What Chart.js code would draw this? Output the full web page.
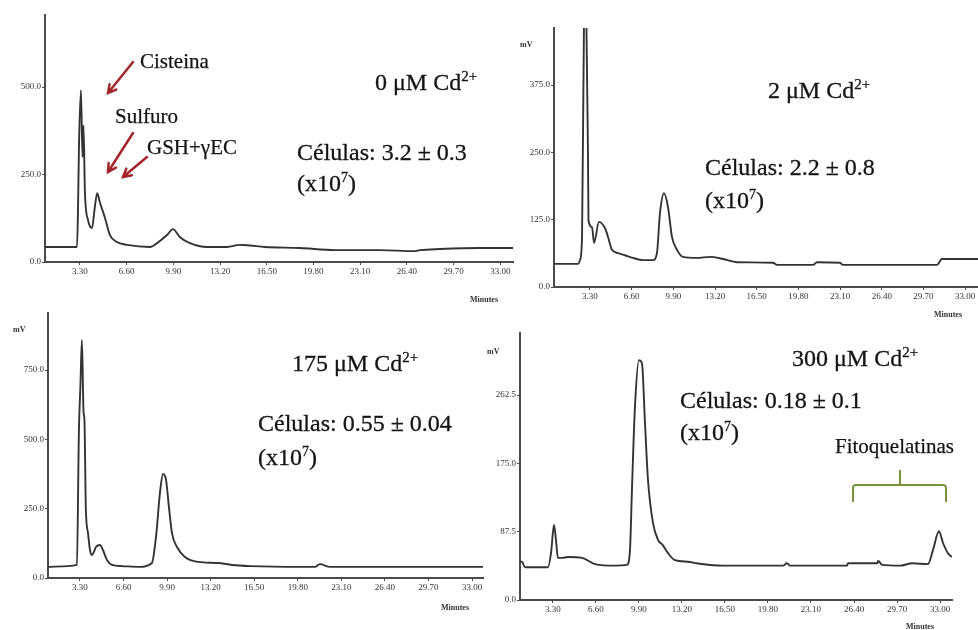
<!DOCTYPE html>
<html>
<head>
<meta charset="utf-8">
<script src="https://cdn.jsdelivr.net/npm/chart.js@4.4.1/dist/chart.umd.min.js"></script>
<style>
    body {
        margin: 0;
        width: 978px;
        height: 630px;
        position: relative;
        overflow: hidden;
        background: #fff;
        font-family: 'Liberation Serif', 'Times New Roman', serif;
        color: #141414;
    }
    canvas { position: absolute; }
    .lbl { position: absolute; white-space: nowrap; line-height: 1; }
    .big { font-size: 24px; -webkit-text-stroke: 0.3px #141414; }
    .mid { font-size: 21px; -webkit-text-stroke: 0.25px #141414; }
    .tiny { font-size: 8px; font-weight: bold; color: #333; }
    .big sup { font-size: 15px; vertical-align: 9px; line-height: 0; }
    .exp { font-size: 14px; vertical-align: 9px; line-height: 0; }
</style>
</head>
<body>
<canvas id="chart-1" width="520" height="315" style="left:0;top:0"></canvas>
<canvas id="chart-2" width="478" height="320" style="left:500px;top:0"></canvas>
<canvas id="chart-3" width="490" height="330" style="left:0;top:300px"></canvas>
<canvas id="chart-4" width="488" height="320" style="left:490px;top:310px"></canvas>

<!-- panel 1 -->
<div class="lbl mid" style="left:140px;top:51px">Cisteina</div>
<div class="lbl mid" style="left:115px;top:106px">Sulfuro</div>
<div class="lbl mid" style="left:147px;top:137px">GSH+γEC</div>
<div class="lbl big" style="left:375px;top:70px">0 μM Cd<sup>2+</sup></div>
<div class="lbl big" style="left:297px;top:140px">Células: 3.2 ± 0.3</div>
<div class="lbl big" style="left:297px;top:171px">(x10<span class="exp">7</span>)</div>
<div class="lbl tiny" style="left:470px;top:296px">Minutes</div>

<!-- panel 2 -->
<div class="lbl tiny" style="left:520px;top:41px">mV</div>
<div class="lbl big" style="left:768px;top:78px">2 μM Cd<sup>2+</sup></div>
<div class="lbl big" style="left:705px;top:155px">Células: 2.2 ± 0.8</div>
<div class="lbl big" style="left:705px;top:188px">(x10<span class="exp">7</span>)</div>
<div class="lbl tiny" style="left:934px;top:311px">Minutes</div>

<!-- panel 3 -->
<div class="lbl tiny" style="left:13px;top:326px">mV</div>
<div class="lbl big" style="left:292px;top:351px">175 μM Cd<sup>2+</sup></div>
<div class="lbl big" style="left:258px;top:411px">Células: 0.55 ± 0.04</div>
<div class="lbl big" style="left:258px;top:445px">(x10<span class="exp">7</span>)</div>
<div class="lbl tiny" style="left:441px;top:604px">Minutes</div>

<!-- panel 4 -->
<div class="lbl tiny" style="left:487px;top:348px">mV</div>
<div class="lbl big" style="left:792px;top:346px">300 μM Cd<sup>2+</sup></div>
<div class="lbl big" style="left:680px;top:388px">Células: 0.18 ± 0.1</div>
<div class="lbl big" style="left:680px;top:420px">(x10<span class="exp">7</span>)</div>
<div class="lbl mid" style="left:835px;top:436px">Fitoquelatinas</div>
<div class="lbl tiny" style="left:906px;top:623px">Minutes</div>

<script>
// tick values shared by all panels (minutes)
const xTicks = [3.3, 6.6, 9.9, 13.2, 16.5, 19.8, 23.1, 26.4, 29.7, 33.0];

// 0 uM Cd
const p1Time = [0.83, 0.97, 3.09, 3.16, 3.23, 3.37, 3.48, 3.55, 3.65, 3.87, 4.15, 4.36, 4.52, 4.71, 5.07, 5.42,
    5.91, 6.62, 8.25, 8.75, 9.45, 9.87, 10.37, 11.08, 12.28, 13.69, 14.61, 15.32, 16.37, 18.85, 21.32, 24.5,
    26.9, 27.33, 28.74, 31.57, 33.9];
const p1Signal = [43, 43, 43, 143, 330, 491, 300, 390, 200, 120, 97, 160, 197, 170, 126, 77,
    57, 49, 43, 54, 77, 94, 71, 54, 43, 43, 49, 47, 43, 40, 34, 34,
    31, 34, 37, 40, 40];
const p1YTicks = [0, 250, 500];

// 2 uM Cd
const p2Time = [0.45, 2.35, 2.51, 2.67, 2.82, 2.9, 3.02, 3.14, 3.18, 3.46, 3.62, 4.01, 4.49, 4.73, 5.04, 5.52,
    6.07, 6.7, 7.5, 8.29, 8.6, 8.84, 9.16, 9.48, 9.79, 10.19, 10.66, 11.77, 12.8, 13.83, 14.94, 17.79,
    18.11, 20.96, 21.27, 23.09, 23.33, 30.77, 31.17, 34.02];
const p2Signal = [43, 43, 50, 93, 481, 520, 481, 249, 124, 111, 82, 121, 109, 93, 69, 63,
    59, 54, 50, 50, 63, 137, 174, 148, 93, 69, 56, 54, 56, 52, 46, 45,
    41, 41, 46, 45, 41, 41, 52, 52];
const p2YTicks = [0, 125, 250, 375];

// 175 uM Cd
const p3Time = [0.88, 2.39, 3.07, 3.22, 3.34, 3.45, 3.57, 3.64, 3.75, 3.91, 4.06, 4.21, 4.36, 4.51, 4.82, 5.04,
    5.35, 5.72, 6.48, 7.85, 8.75, 9.06, 9.36, 9.59, 9.82, 10.04, 10.27, 10.65, 11.25, 12.24, 13.75, 14.82,
    16.18, 19.97, 21.1, 21.48, 22.24, 27.54, 33.83];
const p3Signal = [40, 43, 47, 527, 700, 859, 600, 570, 245, 162, 101, 83, 94, 112, 119, 101,
    65, 47, 43, 40, 54, 148, 307, 375, 354, 256, 162, 112, 76, 58, 54, 47,
    43, 40, 40, 50, 40, 40, 40];
const p3YTicks = [0, 250, 500, 750];

// 300 uM Cd
const p4Time = [0.77, 0.92, 1.15, 2.92, 3.15, 3.38, 3.53, 3.68, 3.99, 4.45, 5.53, 6.52, 8.06, 8.98, 9.21, 9.36,
    9.59, 9.9, 10.13, 10.36, 10.59, 10.97, 11.36, 11.74, 12.13, 12.66, 13.66, 14.35, 16.35, 20.95, 21.26, 21.49,
    25.86, 25.94, 28.17, 28.25, 28.56, 29.94, 30.86, 32.08, 32.46, 32.92, 33.23, 33.61, 33.92];
const p4Signal = [49, 49, 42, 42, 60, 96, 77, 54, 54, 55, 54, 46, 44, 45, 64, 141,
    247, 307, 303, 227, 154, 99, 77, 70, 60, 51, 49, 47, 44, 44, 47, 44,
    44, 47, 47, 50, 45, 44, 47, 46, 64, 88, 73, 60, 55];
const p4YTicks = [0, 87.5, 175, 262.5];

// plot boxes inside each canvas
const panels = [
    { id: 'chart-1', time: p1Time, signal: p1Signal, yTicks: p1YTicks, xMin: 0.83, xMax: 33.9, yMax: 706,
      left: 45, top: 15, right: 7, bottom: 53 },
    { id: 'chart-2', time: p2Time, signal: p2Signal, yTicks: p2YTicks, xMin: 0.45, xMax: 34.02, yMax: 481,
      left: 54, top: 28, right: 0, bottom: 33 },
    { id: 'chart-3', time: p3Time, signal: p3Signal, yTicks: p3YTicks, xMin: 0.88, xMax: 33.83, yMax: 956,
      left: 48, top: 13, right: 7, bottom: 52 },
    { id: 'chart-4', time: p4Time, signal: p4Signal, yTicks: p4YTicks, xMin: 0.77, xMax: 33.92, yMax: 342,
      left: 30, top: 23, right: 26, bottom: 30 },
];

// arrows for panel 1 and bracket for panel 4
const arrowsPlugin = {
    id: 'arrows',
    afterDraw(chart) {
        const ctx = chart.ctx;
        ctx.save();
        if (chart.canvas.id === 'chart-1') {
            ctx.strokeStyle = '#a3262a';
            ctx.lineWidth = 2.5;
            ctx.lineCap = 'round';
            drawArrow(ctx, 133, 62, 108, 93);
            drawArrow(ctx, 133, 133, 108, 172);
            drawArrow(ctx, 147, 157, 123, 177);
        }
        if (chart.canvas.id === 'chart-4') {
            // canvas sits at 490,310
            ctx.strokeStyle = '#76923c';
            ctx.lineWidth = 2;
            ctx.beginPath();
            ctx.moveTo(853 - 490, 502 - 310);
            ctx.lineTo(853 - 490, 488 - 310);
            ctx.quadraticCurveTo(853 - 490, 485 - 310, 856 - 490, 485 - 310);
            ctx.lineTo(943 - 490, 485 - 310);
            ctx.quadraticCurveTo(946 - 490, 485 - 310, 946 - 490, 488 - 310);
            ctx.lineTo(946 - 490, 502 - 310);
            ctx.moveTo(900 - 490, 485 - 310);
            ctx.lineTo(900 - 490, 470 - 310);
            ctx.stroke();
        }
        ctx.restore();
    },
};

function drawArrow(ctx, x1, y1, x2, y2) {
    let a = Math.atan2(y2 - y1, x2 - x1);
    let h = 9;
    ctx.beginPath();
    ctx.moveTo(x1, y1);
    ctx.lineTo(x2, y2);
    ctx.moveTo(x2 - h * Math.cos(a - 0.5), y2 - h * Math.sin(a - 0.5));
    ctx.lineTo(x2, y2);
    ctx.lineTo(x2 - h * Math.cos(a + 0.5), y2 - h * Math.sin(a + 0.5));
    ctx.stroke();
}

function makeChart(p) {
    let canvas = document.getElementById(p.id);
    let xHeight = p.bottom;
    let tickFont = { family: "'Liberation Serif', serif", size: 9 };
    new Chart(canvas.getContext('2d'), {
        type: 'line',
        data: {
            datasets: [{
                data: p.time.map((t, i) => ({ x: t, y: p.signal[i] })),
                borderColor: '#333',
                borderWidth: 1.9,
                pointRadius: 0,
                cubicInterpolationMode: 'monotone',
                fill: false,
            }],
        },
        options: {
            responsive: false,
            animation: false,
            events: [],
            layout: { autoPadding: false, padding: { left: 0, top: p.top, right: p.right, bottom: 0 } },
            plugins: { legend: { display: false }, tooltip: { enabled: false } },
            scales: {
                x: {
                    type: 'linear',
                    min: p.xMin,
                    max: p.xMax,
                    afterBuildTicks: (scale) => { scale.ticks = xTicks.map((v) => ({ value: v })); },
                    afterFit: (scale) => { scale.height = xHeight; },
                    border: { display: true, color: '#4a4a4a', width: 2 },
                    grid: { drawOnChartArea: false, drawTicks: true, tickLength: 3, color: '#4a4a4a' },
                    ticks: { font: tickFont, color: '#333', padding: 1, maxRotation: 0, autoSkip: false,
                        callback: (v) => Number(v).toFixed(2) },
                },
                y: {
                    min: 0,
                    max: p.yMax,
                    afterBuildTicks: (scale) => { scale.ticks = p.yTicks.map((v) => ({ value: v })); },
                    afterFit: (scale) => { scale.width = p.left; },
                    border: { display: true, color: '#4a4a4a', width: 2 },
                    grid: { drawOnChartArea: false, drawTicks: true, tickLength: 3, color: '#4a4a4a' },
                    ticks: { font: tickFont, color: '#333', padding: 1,
                        callback: (v) => Number(v).toFixed(1) },
                },
            },
        },
        plugins: [arrowsPlugin],
    });
}

panels.forEach(makeChart);
</script>
</body>
</html>
